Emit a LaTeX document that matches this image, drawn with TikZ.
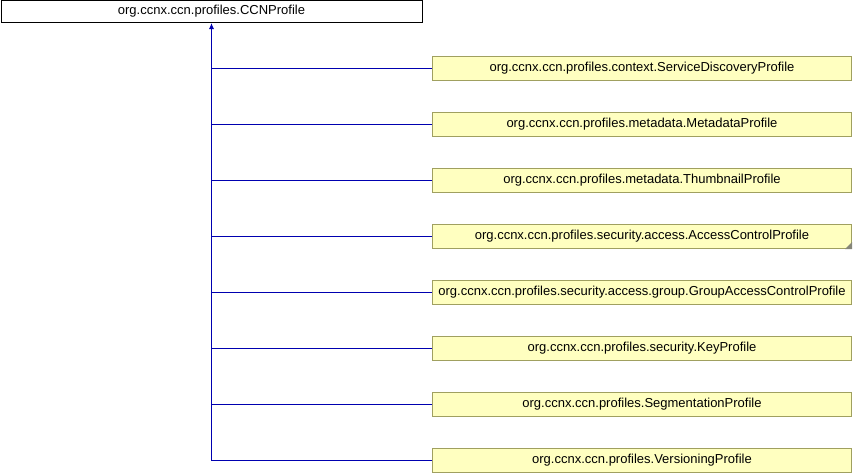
\documentclass[tikz,border=0pt]{standalone}
\usepackage{fontspec}
\setmainfont{Liberation Sans}
\usepackage{xcolor}
\usetikzlibrary{arrows.meta}
\definecolor{noteyellow}{HTML}{FFFFC0}
\definecolor{noteborder}{HTML}{A0A060}
\definecolor{linkblue}{HTML}{0000B0}
\tikzset{
  base/.style={draw=black, fill=white, line width=0.75pt, minimum width=421*0.75pt, minimum height=22*0.75pt, inner sep=0pt, font=\fontsize{9.75}{11}\selectfont},
  derived/.style={draw=noteborder, fill=noteyellow, line width=0.75pt, minimum width=419*0.75pt, minimum height=24*0.75pt, inner sep=0pt, font=\fontsize{9.75}{11}\selectfont},
  link/.style={draw=linkblue, line width=0.75pt},
  inherit/.style={-{Latex[length=4.5pt,width=3.75pt]}, draw=linkblue, line width=0.75pt}
}

\begin{document}
\begin{tikzpicture}[x=0.75pt,y=-0.75pt]
  \useasboundingbox (0,0) rectangle (854,472);
  \node[base] (ccnprofile) at (211.5,11.5) {org.ccnx.ccn.profiles.CCNProfile};

  \node[derived] (servicediscovery) at (642,68.5) {org.ccnx.ccn.profiles.context.ServiceDiscoveryProfile};
  \node[derived] (metadata) at (642,124.5) {org.ccnx.ccn.profiles.metadata.MetadataProfile};
  \node[derived] (thumbnail) at (642,180.5) {org.ccnx.ccn.profiles.metadata.ThumbnailProfile};
  \node[derived] (accesscontrol) at (642,236.5) {org.ccnx.ccn.profiles.security.access.AccessControlProfile};
  \node[derived] (groupaccess) at (642,292.5) {org.ccnx.ccn.profiles.security.access.group.GroupAccessControlProfile};
  \node[derived] (keyprofile) at (642,348.5) {org.ccnx.ccn.profiles.security.KeyProfile};
  \node[derived] (segmentation) at (642,404.5) {org.ccnx.ccn.profiles.SegmentationProfile};
  \node[derived] (versioning) at (642,460.5) {org.ccnx.ccn.profiles.VersioningProfile};

  % folded corner on the abstract one
  \fill[gray!80!noteborder] ([xshift=-7*0.75pt]accesscontrol.south east) -- (accesscontrol.south east) -- ([yshift=7*0.75pt]accesscontrol.south east) -- cycle;

  \coordinate (trunkend) at (versioning.west -| ccnprofile.south);
  \draw[inherit] (trunkend) -- (ccnprofile.south);

  \draw[link] (servicediscovery.west) -- (servicediscovery.west -| ccnprofile.south);
  \draw[link] (metadata.west) -- (metadata.west -| ccnprofile.south);
  \draw[link] (thumbnail.west) -- (thumbnail.west -| ccnprofile.south);
  \draw[link] (accesscontrol.west) -- (accesscontrol.west -| ccnprofile.south);
  \draw[link] (groupaccess.west) -- (groupaccess.west -| ccnprofile.south);
  \draw[link] (keyprofile.west) -- (keyprofile.west -| ccnprofile.south);
  \draw[link] (segmentation.west) -- (segmentation.west -| ccnprofile.south);
  \draw[link] (versioning.west) -- (trunkend);
\end{tikzpicture}
\end{document}
